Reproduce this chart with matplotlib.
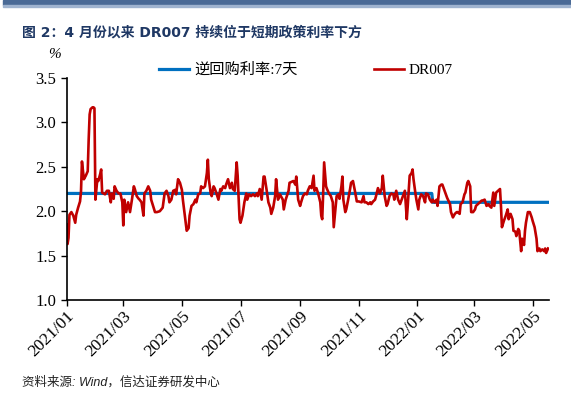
import matplotlib
matplotlib.use("Agg")
import matplotlib.pyplot as plt
import matplotlib.dates as mdates
import pandas as pd
from matplotlib.patches import Rectangle

# DR007 (%)
dr_dates = [
    "2021-01-01", "2021-01-02", "2021-01-03", "2021-01-04", "2021-01-06", "2021-01-08",
    "2021-01-10", "2021-01-11", "2021-01-13", "2021-01-15", "2021-01-16", "2021-01-17",
    "2021-01-19", "2021-01-21", "2021-01-23", "2021-01-24", "2021-01-25", "2021-01-26",
    "2021-01-28", "2021-01-29", "2021-01-30", "2021-01-31", "2021-02-02", "2021-02-03",
    "2021-02-05", "2021-02-06", "2021-02-07", "2021-02-10", "2021-02-12", "2021-02-14",
    "2021-02-16", "2021-02-17", "2021-02-19", "2021-02-20", "2021-02-22", "2021-02-24",
    "2021-02-26", "2021-02-28", "2021-03-01", "2021-03-02", "2021-03-04", "2021-03-06",
    "2021-03-08", "2021-03-10", "2021-03-12", "2021-03-13", "2021-03-15", "2021-03-17",
    "2021-03-18", "2021-03-20", "2021-03-22", "2021-03-23", "2021-03-25", "2021-03-27",
    "2021-03-29", "2021-03-30", "2021-04-01", "2021-04-03", "2021-04-05", "2021-04-08",
    "2021-04-11", "2021-04-13", "2021-04-15", "2021-04-17", "2021-04-18", "2021-04-20",
    "2021-04-22", "2021-04-24", "2021-04-25", "2021-04-27", "2021-04-29", "2021-05-01",
    "2021-05-02", "2021-05-04", "2021-05-06", "2021-05-08", "2021-05-09", "2021-05-11",
    "2021-05-13", "2021-05-15", "2021-05-16", "2021-05-18", "2021-05-20", "2021-05-21",
    "2021-05-23", "2021-05-25", "2021-05-27", "2021-05-28", "2021-05-29", "2021-05-31",
    "2021-06-01", "2021-06-03", "2021-06-04", "2021-06-06", "2021-06-08", "2021-06-10",
    "2021-06-11", "2021-06-13", "2021-06-15", "2021-06-16", "2021-06-18", "2021-06-20",
    "2021-06-22", "2021-06-23", "2021-06-25", "2021-06-27", "2021-06-28", "2021-06-30",
    "2021-07-01", "2021-07-03", "2021-07-05", "2021-07-07", "2021-07-08", "2021-07-10",
    "2021-07-12", "2021-07-14", "2021-07-16", "2021-07-18", "2021-07-19", "2021-07-21",
    "2021-07-23", "2021-07-25", "2021-07-26", "2021-07-28", "2021-07-30", "2021-08-01",
    "2021-08-02", "2021-08-04", "2021-08-06", "2021-08-07", "2021-08-09", "2021-08-11",
    "2021-08-14", "2021-08-15", "2021-08-17", "2021-08-20", "2021-08-21", "2021-08-25",
    "2021-08-27", "2021-08-28", "2021-08-30", "2021-09-01", "2021-09-02", "2021-09-04",
    "2021-09-06", "2021-09-08", "2021-09-09", "2021-09-11", "2021-09-13", "2021-09-15",
    "2021-09-16", "2021-09-18", "2021-09-20", "2021-09-22", "2021-09-23", "2021-09-24",
    "2021-09-25", "2021-09-26", "2021-09-28", "2021-09-29", "2021-10-01", "2021-10-03",
    "2021-10-05", "2021-10-06", "2021-10-08", "2021-10-09", "2021-10-11", "2021-10-12",
    "2021-10-14", "2021-10-15", "2021-10-16", "2021-10-18", "2021-10-19", "2021-10-21",
    "2021-10-23", "2021-10-24", "2021-10-26", "2021-10-28", "2021-10-30", "2021-11-01",
    "2021-11-04", "2021-11-06", "2021-11-07", "2021-11-09", "2021-11-11", "2021-11-13",
    "2021-11-14", "2021-11-16", "2021-11-18", "2021-11-19", "2021-11-21", "2021-11-23",
    "2021-11-25", "2021-11-26", "2021-11-28", "2021-11-30", "2021-12-01", "2021-12-03",
    "2021-12-05", "2021-12-07", "2021-12-08", "2021-12-10", "2021-12-12", "2021-12-14",
    "2021-12-15", "2021-12-17", "2021-12-19", "2021-12-21", "2021-12-22", "2021-12-24",
    "2021-12-26", "2021-12-27", "2021-12-28", "2021-12-30", "2021-12-31", "2022-01-02",
    "2022-01-03", "2022-01-05", "2022-01-07", "2022-01-09", "2022-01-10", "2022-01-12",
    "2022-01-14", "2022-01-16", "2022-01-17", "2022-01-19", "2022-01-21", "2022-01-22",
    "2022-01-24", "2022-01-26", "2022-01-27", "2022-01-29", "2022-02-01", "2022-02-04",
    "2022-02-05", "2022-02-07", "2022-02-09", "2022-02-11", "2022-02-12", "2022-02-14",
    "2022-02-15", "2022-02-17", "2022-02-19", "2022-02-20", "2022-02-22", "2022-02-23",
    "2022-02-25", "2022-02-26", "2022-02-28", "2022-03-02", "2022-03-03", "2022-03-05",
    "2022-03-07", "2022-03-09", "2022-03-10", "2022-03-12", "2022-03-14", "2022-03-16",
    "2022-03-17", "2022-03-19", "2022-03-21", "2022-03-22", "2022-03-24", "2022-03-26",
    "2022-03-28", "2022-03-29", "2022-03-30", "2022-04-01", "2022-04-03", "2022-04-05",
    "2022-04-06", "2022-04-08", "2022-04-10", "2022-04-11", "2022-04-13", "2022-04-14",
    "2022-04-16", "2022-04-17", "2022-04-19", "2022-04-20", "2022-04-22", "2022-04-23",
    "2022-04-24", "2022-04-26", "2022-04-28", "2022-04-30", "2022-05-01", "2022-05-03",
    "2022-05-05", "2022-05-06", "2022-05-08", "2022-05-09", "2022-05-11", "2022-05-13",
    "2022-05-14", "2022-05-15", "2022-05-17",
]
dr007 = [
    1.85, 1.63, 1.70, 1.96, 1.99, 1.95,
    1.87, 1.96, 2.04, 2.11, 2.22, 2.56,
    2.36, 2.40, 2.45, 2.81, 3.09, 3.15,
    3.17, 3.17, 3.16, 2.13, 2.36, 2.34,
    2.42, 2.47, 2.21, 2.19, 2.23, 2.23,
    2.10, 2.20, 2.14, 2.28, 2.23, 2.20,
    2.20, 2.10, 1.84, 2.13, 1.99, 2.10,
    1.99, 2.13, 2.28, 2.25, 2.17, 2.14,
    2.13, 2.10, 1.95, 2.20, 2.23, 2.28,
    2.23, 2.13, 2.06, 1.99, 1.99, 2.00,
    2.04, 2.20, 2.23, 2.17, 2.10, 2.13,
    2.23, 2.24, 2.19, 2.36, 2.32, 2.24,
    2.13, 1.95, 1.78, 1.81, 1.95, 2.06,
    2.08, 2.13, 2.10, 2.19, 2.20, 2.28,
    2.26, 2.28, 2.43, 2.58, 2.36, 2.20,
    2.17, 2.28, 2.26, 2.20, 2.13, 2.25,
    2.23, 2.28, 2.26, 2.30, 2.36, 2.26,
    2.32, 2.25, 2.23, 2.55, 2.40, 1.91,
    1.87, 1.95, 2.10, 2.20, 2.13, 2.19,
    2.17, 2.19, 2.17, 2.20, 2.17, 2.25,
    2.13, 2.39, 2.39, 2.25, 2.10, 2.04,
    1.97, 2.04, 2.17, 2.36, 2.13, 2.19,
    2.13, 2.02, 2.13, 2.23, 2.32, 2.34,
    2.30, 2.39, 2.13, 2.06, 2.10, 2.17,
    2.20, 2.19, 2.23, 2.28, 2.26, 2.40,
    2.23, 2.26, 2.19, 2.10, 1.95, 1.91,
    2.20, 2.55, 2.28, 2.25, 2.20, 2.17,
    2.10, 1.82, 2.06, 2.17, 2.19, 2.14,
    2.28, 2.39, 2.13, 1.99, 2.02, 2.13,
    2.25, 2.32, 2.34, 2.23, 2.11, 2.11,
    2.10, 2.17, 2.10, 2.10, 2.08, 2.10,
    2.08, 2.11, 2.13, 2.17, 2.26, 2.20,
    2.26, 2.40, 2.17, 2.06, 2.08, 2.17,
    2.20, 2.19, 2.13, 2.23, 2.13, 2.08,
    2.11, 2.17, 2.23, 1.91, 2.06, 2.40,
    2.43, 2.47, 2.36, 2.20, 2.13, 2.02,
    2.13, 2.19, 2.17, 2.10, 2.20, 2.19,
    2.13, 2.10, 2.13, 2.10, 2.13, 2.06,
    2.28, 2.30, 2.30, 2.24, 2.15, 2.08,
    1.99, 1.93, 1.97, 1.99, 1.99, 1.97,
    2.08, 2.10, 2.19, 2.21, 2.32, 2.34,
    2.28, 1.99, 1.99, 2.02, 2.06, 2.08,
    2.10, 2.12, 2.12, 2.13, 2.06, 2.08,
    2.06, 2.04, 2.21, 2.06, 2.21, 2.23,
    2.25, 2.06, 1.82, 1.89, 1.95, 2.02,
    1.91, 1.97, 1.91, 1.78, 1.77, 1.72,
    1.80, 1.78, 1.55, 1.69, 1.62, 1.78,
    1.87, 1.99, 1.99, 1.93, 1.89, 1.82,
    1.69, 1.55, 1.58, 1.55, 1.57, 1.55,
    1.58, 1.53, 1.58,
]

# 7-day reverse repo rate (step)
rr_dates = ["2021-01-01", "2022-01-16", "2022-01-17", "2022-05-17"]
rr_rate = [2.20, 2.20, 2.10, 2.10]

title = "图 2：4 月份以来 DR007 持续位于短期政策利率下方"
source = "资料来源: Wind，信达证券研发中心"

serif = ["Liberation Serif", "Noto Sans CJK SC"]
plt.rcParams["font.family"] = serif

fig = plt.figure(figsize=(5.71, 3.99), dpi=100)
ax = fig.add_axes([0.1166, 0.2481, 0.8449, 0.5564])

# top banner
fig.patches.append(Rectangle((0.005, 0.987), 0.995, 0.013, transform=fig.transFigure,
                             color="#4a6a96", zorder=0))
fig.patches.append(Rectangle((0.005, 0.983), 0.995, 0.004, transform=fig.transFigure,
                             color="#9fb3cf", zorder=0))

ax.plot(pd.to_datetime(rr_dates), rr_rate, color="#0070c0", lw=2.3, label="逆回购利率:7天")
ax.plot(pd.to_datetime(dr_dates), dr007, color="#c00000", lw=1.9, label="DR007")

ax.set_xlim(pd.Timestamp("2021-01-01"), pd.Timestamp("2022-05-18"))
ax.set_ylim(1.0, 3.5)
ax.set_yticks([1.0, 1.5, 2.0, 2.5, 3.0, 3.5])
ax.yaxis.set_major_formatter(matplotlib.ticker.FormatStrFormatter("%.1f"))
ax.xaxis.set_major_locator(mdates.MonthLocator(bymonth=[1, 3, 5, 7, 9, 11]))
ax.xaxis.set_major_formatter(mdates.DateFormatter("%Y/%m"))

for s in ["top", "right"]:
    ax.spines[s].set_visible(False)
for s in ["left", "bottom"]:
    ax.spines[s].set_linewidth(1.2)
    ax.spines[s].set_color("black")

ax.tick_params(axis="both", direction="out", length=4, width=1, colors="black")
ax.tick_params(axis="y", labelsize=12)
ax.tick_params(axis="x", labelsize=12.5, pad=2)
plt.setp(ax.get_xticklabels(), rotation=45, ha="right", rotation_mode="anchor")

leg = ax.legend(loc="center", ncol=2, frameon=False, fontsize=11, handlelength=2.0,
                columnspacing=5.0, handletextpad=0.3, borderaxespad=0)
leg.set_bbox_to_anchor((306 / 571, 1 - 70 / 399), transform=fig.transFigure)

fig.text(22 / 571, 1 - 33 / 399, title, fontsize=10, fontweight="bold",
         color="#1f3864", family=["DejaVu Sans", "Noto Sans CJK SC"], va="center")
fig.text(48 / 571, 1 - 55 / 399, "%", fontsize=11, style="italic", va="center")
fig.text(22 / 571, 1 - 382 / 399, source, fontsize=9, style="italic",
         family=["Liberation Sans", "Noto Sans CJK SC"], va="center", color="#222222")

fig.savefig("out.png", dpi=100)
